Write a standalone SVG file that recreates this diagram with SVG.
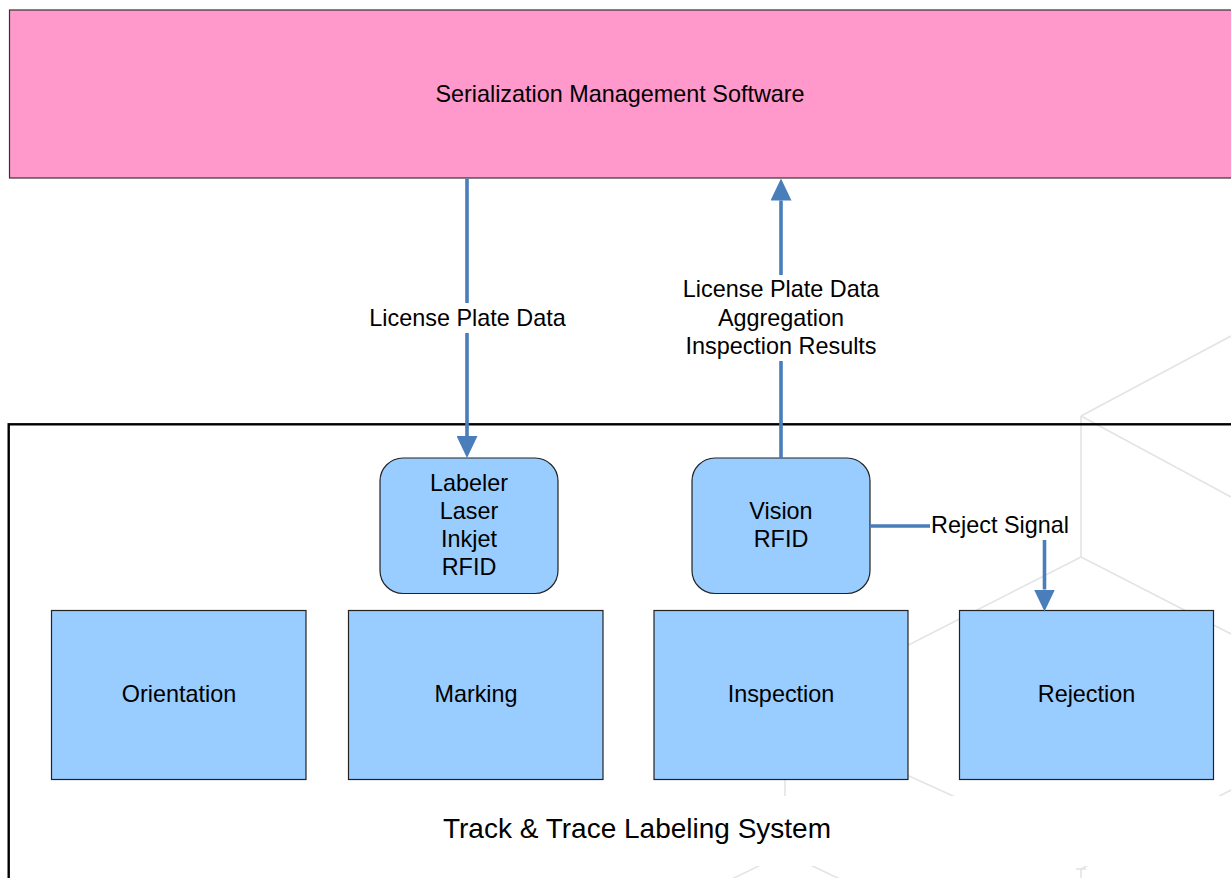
<svg xmlns="http://www.w3.org/2000/svg" width="1231" height="878" viewBox="0 0 1231 878">
  <defs>
    <style>
      text { font-family: "Liberation Sans", Arial, sans-serif; fill: #000; text-anchor: middle; }
      .lbl { font-size: 23.4px; }
      .big { font-size: 28px; }
      .blue { fill: #99ccff; stroke: #222; stroke-width: 1.2; }
      .pink { fill: #ff99cc; stroke: #333; stroke-width: 1.2; }
      .conn { fill: none; stroke: #4a7ebb; stroke-width: 3.6; }
      .wm { fill: none; stroke: #e4e4e4; stroke-width: 1.6; }
      .bg { fill: #ffffff; stroke: none; }
    </style>
    <marker id="arrow" viewBox="0 0 22 21" markerWidth="22" markerHeight="21" refX="0" refY="10.5" orient="auto" markerUnits="userSpaceOnUse">
      <path d="M0,0 L22,10.5 L0,21 Z" fill="#4a7ebb"/>
    </marker>
  </defs>

  <rect x="0" y="0" width="1231" height="878" fill="#ffffff"/>

  <!-- faint background watermark -->
  <g id="watermark" class="wm">
    <path d="M1081,416 L1231,336"/>
    <path d="M1081,416 L1231,497"/>
    <path d="M1081,416 V557"/>
    <path d="M1081,557 L785,708"/>
    <path d="M1081,557 L1231,634"/>
    <path d="M785,708 V860"/>
    <path d="M785,720 L962,800"/>
    <path d="M1081,869 L1231,790"/>
    <path d="M1081,869 V878"/>
    <path d="M1076,869 H1086"/>
    <path d="M785,853 L730,880"/>
    <path d="M785,853 L842,880"/>
  </g>

  <g id="serialization-management-software">
    <rect class="pink" x="9.5" y="10" width="1235" height="168"/>
    <text class="lbl" x="620" y="102">Serialization Management Software</text>
  </g>

  <g id="track-trace-labeling-system">
    <rect x="8.7" y="424.3" width="1240" height="470" fill="none" stroke="#000" stroke-width="2.4"/>
    <rect class="bg" x="11" y="796" width="1222" height="70"/>
    <text class="big" x="637" y="838">Track &amp; Trace Labeling System</text>
  </g>

  <g id="labeler">
    <rect class="blue" x="380" y="458" width="178" height="135.5" rx="23" ry="23"/>
    <text class="lbl" x="469" y="491">Labeler</text>
    <text class="lbl" x="469" y="519">Laser</text>
    <text class="lbl" x="469" y="547">Inkjet</text>
    <text class="lbl" x="469" y="575">RFID</text>
  </g>

  <g id="vision">
    <rect class="blue" x="692" y="458" width="178" height="135.5" rx="23" ry="23"/>
    <text class="lbl" x="781" y="519">Vision</text>
    <text class="lbl" x="781" y="547">RFID</text>
  </g>

  <g id="orientation">
    <rect class="blue" x="51.5" y="610.5" width="254.5" height="169"/>
    <text class="lbl" x="179" y="702">Orientation</text>
  </g>

  <g id="marking">
    <rect class="blue" x="348.5" y="610.5" width="254.5" height="169"/>
    <text class="lbl" x="476" y="702">Marking</text>
  </g>

  <g id="inspection">
    <rect class="blue" x="654" y="610.5" width="254" height="169"/>
    <text class="lbl" x="781" y="702">Inspection</text>
  </g>

  <g id="rejection">
    <rect class="blue" x="959.5" y="610.5" width="254" height="169"/>
    <text class="lbl" x="1086.5" y="702">Rejection</text>
  </g>

  <g id="connectors">
    <path class="conn" d="M467,178.5 V436" marker-end="url(#arrow)"/>
    <rect class="bg" x="366" y="303" width="203" height="30"/>
    <text class="lbl" x="467.5" y="326">License Plate Data</text>

    <path class="conn" d="M781,458 V200.5" marker-end="url(#arrow)"/>
    <rect class="bg" x="680" y="275" width="202" height="86"/>
    <text class="lbl" x="781" y="297">License Plate Data</text>
    <text class="lbl" x="781" y="326">Aggregation</text>
    <text class="lbl" x="781" y="354">Inspection Results</text>

    <path class="conn" d="M870,526 H1044.5 V589.5" marker-end="url(#arrow)"/>
    <rect class="bg" x="930" y="511" width="140" height="29"/>
    <text class="lbl" x="1000" y="533">Reject Signal</text>
  </g>
</svg>
